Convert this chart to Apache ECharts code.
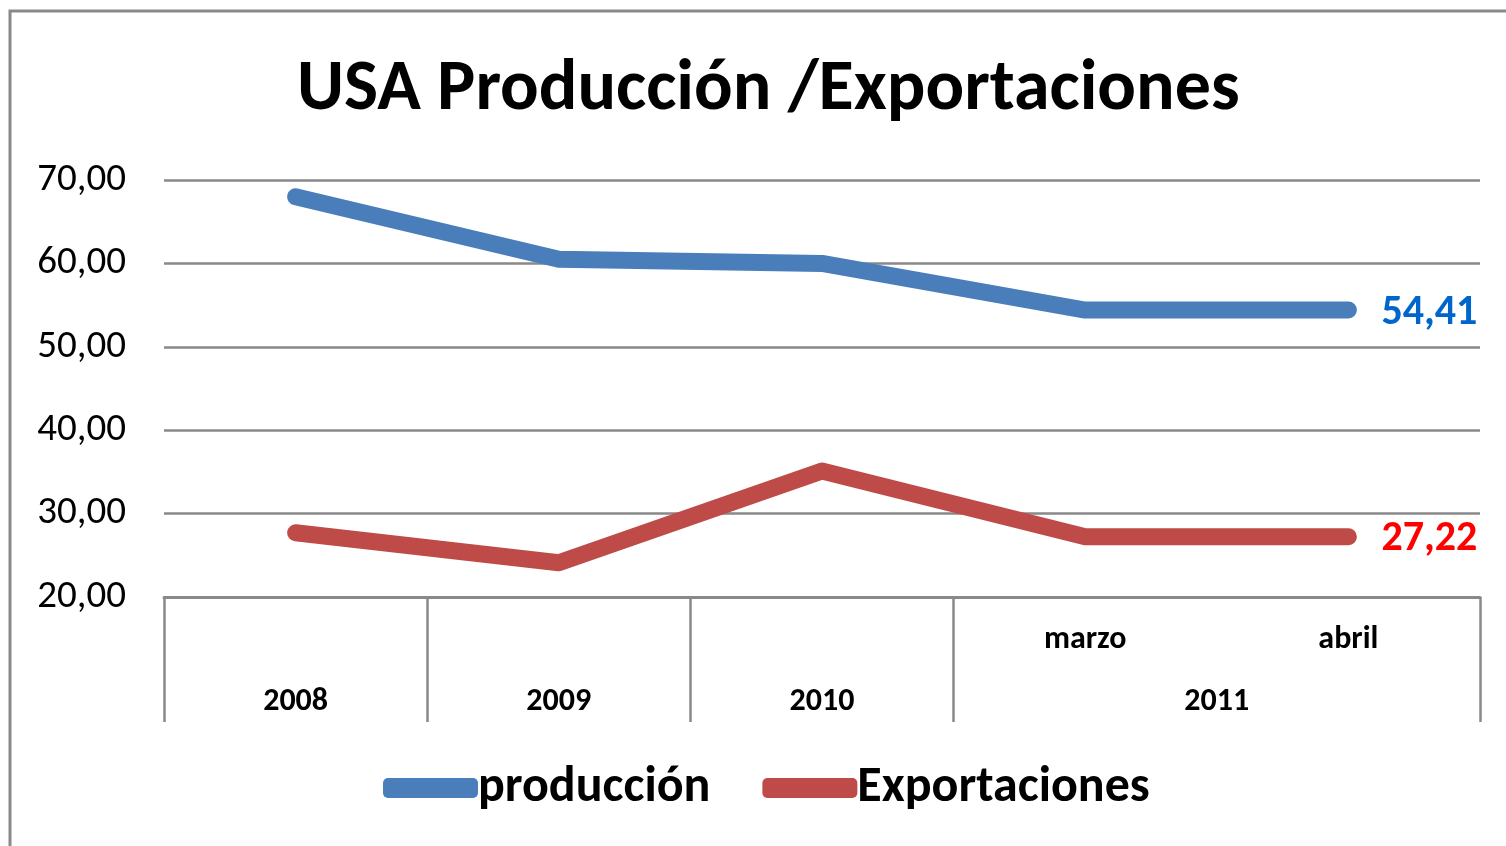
<!DOCTYPE html>
<html>
<head>
<meta charset="utf-8">
<script src="https://cdn.jsdelivr.net/npm/echarts@6/dist/echarts.min.js"></script>
<style>
html,body{margin:0;padding:0;background:#fff;}
#c{width:1506px;height:846px;}
</style>
</head>
<body>
<div id="c"></div>
<script>
// ---- data ----
const months = ["", "", "", "marzo", "abril"];
const years = ["2008", "2009", "2010", "2011"];
const yearSpans = [1, 1, 1, 2];
const produccion = [68.0, 60.5, 60.0, 54.41, 54.41];
const exportaciones = [27.7, 24.1, 35.1, 27.22, 27.22];
const yTicks = { min: 20, max: 70, interval: 10 };
const seriesNames = ["producción", "Exportaciones"];

const FONT = 'Carlito, Calibri, Lato, sans-serif';
const GRAY = '#898989';
const fmt = v => Number(v).toFixed(2).replace('.', ',');

// second-level labels laid on a half-step axis (2*N+1 slots)
const slots = new Array(months.length * 2 + 1).fill('');
let start = 0;
years.forEach((y, i) => { slots[2 * start + yearSpans[i]] = y; start += yearSpans[i]; });

// group boundaries: tick at start of each group
const groupStarts = new Set();
start = 0;
yearSpans.forEach(s => { groupStarts.add(start); start += s; });

const chart = echarts.init(document.getElementById('c'));
chart.setOption({
  backgroundColor: '#fff',
  animation: false,
  graphic: [{
    type: 'rect', shape: { x: 10, y: 11, width: 1600, height: 900 },
    style: { fill: 'none', stroke: GRAY, lineWidth: 3 }, silent: true
  }],
  title: {
    text: 'USA Producción /Exportaciones',
    left: 292, top: 50,
    textStyle: { fontFamily: FONT, fontWeight: 'bold', fontSize: 72, color: '#000' }
  },
  grid: { left: 164, right: 26, top: 180, bottom: 249, containLabel: false },
  xAxis: [{
    type: 'category', data: months, boundaryGap: true, position: 'bottom',
    axisLine: { show: true, lineStyle: { color: GRAY, width: 3 } },
    axisTick: { show: true, length: 125, interval: (i) => groupStarts.has(i), lineStyle: { color: GRAY, width: 2.5 } },
    axisLabel: { interval: 0, margin: 27, fontFamily: FONT, fontWeight: 'bold', fontSize: 32, color: '#000' },
    splitLine: { show: false }
  }, {
    type: 'category', data: slots, boundaryGap: false, position: 'bottom', offset: 0,
    axisLine: { show: false }, axisTick: { show: false },
    axisLabel: { interval: 0, margin: 89, fontFamily: FONT, fontWeight: 'bold', fontSize: 32, color: '#000' },
    splitLine: { show: false }
  }],
  yAxis: {
    type: 'value', min: yTicks.min, max: yTicks.max, interval: yTicks.interval,
    axisLine: { show: false }, axisTick: { show: false },
    axisLabel: { margin: 38, formatter: fmt, fontFamily: FONT, fontSize: 39, color: '#000' },
    splitLine: { lineStyle: { color: GRAY, width: 2.5 } }
  },
  legend: {
    top: 758, left: 378, icon: 'roundRect', itemWidth: 95, itemHeight: 20, itemGap: 52,
    textStyle: { fontFamily: FONT, fontWeight: 'bold', fontSize: 50, color: '#000', padding: [0, 0, 0, -5] },
    data: seriesNames
  },
  series: [{
    name: seriesNames[0], type: 'line', data: produccion, xAxisIndex: 0,
    showSymbol: false, symbol: 'none', color: '#4A7EBB',
    lineStyle: { width: 17, cap: 'round', join: 'round', color: '#4A7EBB' },
    endLabel: { show: true, distance: 33, offset: [0, 3], formatter: p => fmt(p.value), color: '#0066CC',
      fontFamily: FONT, fontWeight: 'bold', fontSize: 42 }
  }, {
    name: seriesNames[1], type: 'line', data: exportaciones, xAxisIndex: 0,
    showSymbol: false, symbol: 'none', color: '#BE4B48',
    lineStyle: { width: 17, cap: 'round', join: 'round', color: '#BE4B48' },
    endLabel: { show: true, distance: 33, offset: [0, 3], formatter: p => fmt(p.value), color: '#FF0000',
      fontFamily: FONT, fontWeight: 'bold', fontSize: 42 }
  }]
});
</script>
</body>
</html>
